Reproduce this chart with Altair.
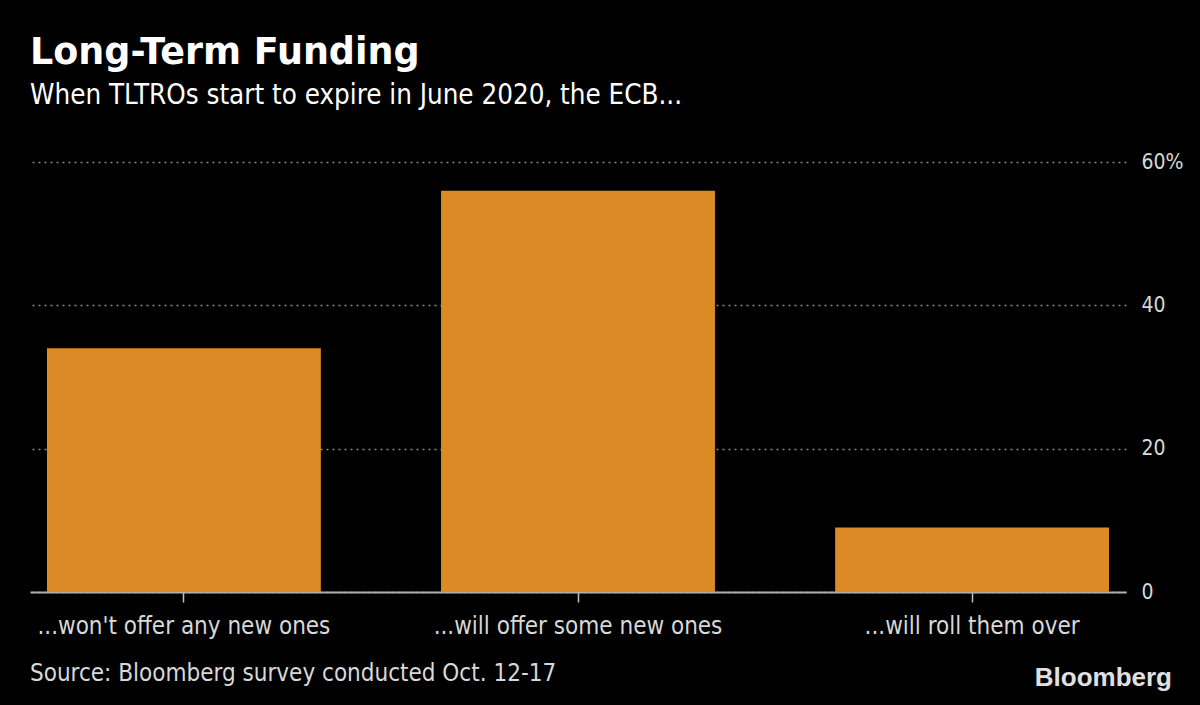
import altair as alt
import pandas as pd

categories = ["...won't offer any new ones", "...will offer some new ones", "...will roll them over"]
values = [34, 56, 9]
y_ticks = [0, 20, 40, 60]
title_text = "Long-Term Funding"
subtitle_text = "When TLTROs start to expire in June 2020, the ECB..."
source_text = "Source: Bloomberg survey conducted Oct. 12-17"
logo_text = "Bloomberg"

df = pd.DataFrame({"answer": categories, "pct": values})

W, H = 1096, 430
FONT = "DejaVu Sans Condensed, DejaVu Sans, sans-serif"

bars = alt.Chart(df).mark_bar(color="#DB8A26").encode(
    x=alt.X(
        "answer:N",
        sort=categories,
        scale=alt.Scale(paddingInner=0.305, paddingOuter=0.043),
        axis=alt.Axis(
            title=None, labelAngle=0, labelFontSize=24, labelColor="#d8d8d8", labelFont=FONT,
            labelLimit=0, domainColor="#b0b0b0", domainWidth=2, tickColor="#c0c0c0", tickSize=10,
            tickWidth=1.5, labelPadding=12, grid=False,
        ),
    ),
    y=alt.Y(
        "pct:Q",
        scale=alt.Scale(domain=[0, 60]),
        axis=alt.Axis(
            title=None, orient="right", values=y_ticks,
            labelExpr="datum.value == 60 ? '60%' : datum.label",
            labelFontSize=21, labelColor="#d8d8d8", labelFont=FONT, labelPadding=15,
            domain=False, ticks=False, grid=True, gridColor="#8a8a8a", gridDash=[2, 4], gridWidth=1.5,
        ),
    ),
)

src = alt.Chart(pd.DataFrame({"t": [source_text]})).mark_text(
    align="left", baseline="middle", font=FONT, fontSize=24, color="#d8d8d8"
).encode(text="t:N", x=alt.value(0), y=alt.value(H + 82))

logo = alt.Chart(pd.DataFrame({"t": [logo_text]})).mark_text(
    align="right", baseline="middle", font="Liberation Sans", fontWeight="bold", fontSize=26, color="#e0e0e0"
).encode(text="t:N", x=alt.value(W + 46), y=alt.value(H + 86))

chart = alt.layer(bars, src, logo).properties(
    width=W, height=H,
    title=alt.TitleParams(
        text=title_text, subtitle=subtitle_text, anchor="start", frame="group",
        font="DejaVu Sans", fontSize=36.5, fontWeight="bold", color="#ffffff",
        subtitleFont=FONT, subtitleFontSize=27.5, subtitleColor="#ffffff", subtitlePadding=10,
        offset=42,
    ),
    autosize=alt.AutoSizeParams(type="none"),
    padding={"left": 30, "top": 162, "right": 74, "bottom": 113},
).configure(background="#000000").configure_view(stroke=None)

chart.save("out.html", embed_options={"renderer": "svg", "actions": False})
